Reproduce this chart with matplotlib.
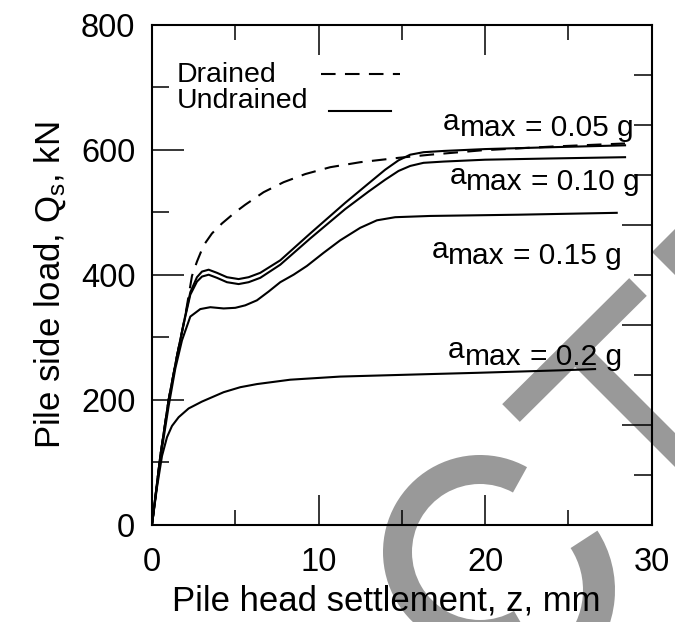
import numpy as np
import matplotlib
matplotlib.use('Agg')
import matplotlib.pyplot as plt
from matplotlib.patches import Wedge, Polygon
from matplotlib.transforms import IdentityTransform
from matplotlib.ticker import MultipleLocator, FixedLocator

plt.rcParams['font.family'] = ['Liberation Sans', 'DejaVu Sans']
plt.rcParams['mathtext.default'] = 'regular'

# pile head settlement z (mm) vs pile side load Qs (kN)
drained_z = [0, 0.5, 1.0, 1.5, 2.0, 2.4, 2.7, 3.1, 3.6, 4.2, 5.0, 5.6, 6.7, 7.9,
             9.2, 10.7, 12.5, 14.8, 16.7, 19.8, 24.0, 28.4]
drained_q = [0, 110, 200, 270, 335, 398, 421, 447, 466, 482, 500, 512, 532, 548,
             561, 572, 580, 587, 592, 599, 605, 610]

und_z = [0, 0.5, 1.0, 1.5, 2.0, 2.3, 2.7, 3.0, 3.4, 3.9, 4.5, 5.2, 5.8, 6.5, 7.7,
         9.5, 11.6, 13.0, 14.0, 14.8, 15.5, 16.3, 17.5, 20.0, 24.0, 28.4]
und005_q = [0, 110, 200, 270, 335, 372, 396, 405, 408, 403, 396, 393, 396, 403, 423,
            466, 515, 546, 568, 583, 592, 596, 598, 601, 604, 607]
und010_q = [0, 110, 200, 270, 333, 368, 389, 397, 400, 395, 388, 385, 388, 395, 416,
            458, 505, 533, 552, 566, 574, 579, 581, 584, 586, 588]

und015_z = [0, 0.5, 1.0, 1.4, 1.8, 2.3, 2.9, 3.5, 4.3, 5.0, 5.6, 6.3, 7.0, 7.7, 8.5,
            9.3, 10.3, 11.3, 12.5, 13.5, 14.6, 16.7, 22.0, 27.9]
und015_q = [0, 105, 190, 250, 295, 333, 345, 348, 346, 347, 351, 359, 373, 388, 400,
            414, 435, 455, 475, 487, 492, 494, 496, 499]

und020_z = [0, 0.3, 0.6, 0.9, 1.2, 1.6, 2.2, 3.0, 4.3, 5.3, 6.3, 8.3, 11.3, 14.0,
            16.7, 19.5, 22.0, 24.5, 26.6]
und020_q = [0, 60, 110, 140, 158, 172, 186, 197, 212, 220, 225, 232, 237, 239,
            241, 243, 245, 247, 249]

# a_max labels: (text after "a max", right edge z, baseline Qs)
amax_labels = ['0.05 g', '0.10 g', '0.15 g', '0.2 g']
amax_z = [28.9, 29.3, 28.2, 28.2]
amax_q = [622, 535, 417, 256]

W, H = 675, 622
fig = plt.figure(figsize=(W / 100, H / 100), dpi=100)
fig.patch.set_facecolor('white')

# grey logo behind the plot (pixel coords, y measured from the top)
grey = '#999999'
ident = IdentityTransform()

def bar(p0, p1, w):
    p0 = np.array([p0[0], H - p0[1]], float)
    p1 = np.array([p1[0], H - p1[1]], float)
    d = (p1 - p0) / np.hypot(*(p1 - p0))
    n = np.array([-d[1], d[0]]) * w / 2
    return Polygon([p0 + n, p1 + n, p1 - n, p0 - n], closed=True)

logo = [
    Wedge((480, H - 552), 97, 61, 300, width=29),
    Wedge((506, H - 590), 109, -120, 33, width=32),
    bar((511, 413), (638, 287), 25),
    bar((575, 350), (700, 475), 24),
    Polygon([(652, H - 252), (700, H - 204), (700, H - 300)], closed=True),
]
for p in logo:
    p.set_transform(ident)
    p.set_facecolor(grey)
    p.set_edgecolor('none')
    p.set_zorder(-1)
    fig.add_artist(p)

ax = fig.add_axes([152 / W, 1 - 524.7 / H, 499.7 / W, 500 / H])
ax.patch.set_visible(False)

lw = 1.5
ax.plot(drained_z, drained_q, color='k', lw=lw, ls=(0, (7, 4.5)))
ax.plot(und_z, und005_q, color='k', lw=lw)
ax.plot(und_z, und010_q, color='k', lw=lw)
ax.plot(und015_z, und015_q, color='k', lw=lw)
ax.plot(und020_z, und020_q, color='k', lw=lw)

ax.set_xlim(0, 30)
ax.set_ylim(0, 800)
ax.xaxis.set_major_locator(MultipleLocator(10))
ax.xaxis.set_minor_locator(MultipleLocator(5))
ax.yaxis.set_major_locator(MultipleLocator(200))
ax.yaxis.set_minor_locator(MultipleLocator(100))
for s in ax.spines.values():
    s.set_linewidth(1.5)
ax.tick_params(which='both', direction='in', top=True, right=False, width=1.1,
               labelsize=23.5)
ax.tick_params(axis='x', which='major', length=21.5, pad=16)
ax.tick_params(axis='x', which='minor', length=11)
ax.tick_params(axis='y', which='major', length=23, pad=12)
ax.tick_params(axis='y', which='minor', length=12)

# right side carries its own tick spacing
ax2 = ax.twinx()
ax2.set_ylim(0, 800)
for s in ax2.spines.values():
    s.set_visible(False)
ax2.yaxis.set_major_locator(FixedLocator([160, 320, 480]))
ax2.yaxis.set_minor_locator(FixedLocator([80, 240, 400, 560, 640, 720]))
ax2.tick_params(which='both', direction='in', width=1.1, labelright=False)
ax2.tick_params(which='major', length=21.5)
ax2.tick_params(which='minor', length=13)

ax.set_xlabel('Pile head settlement, z, mm', fontsize=25)
ax.xaxis.set_label_coords(0.469, -0.12)
ax.set_ylabel('Pile side load, Q$_s$, kN', fontsize=25)
ax.yaxis.set_label_coords(-0.168, 0.479)

# legend written by hand: label first, line sample after it
ax.text(0.0495, 0.886, 'Drained', transform=ax.transAxes, fontsize=20.5, va='baseline')
ax.text(0.0495, 0.834, 'Undrained', transform=ax.transAxes, fontsize=20.5, va='baseline')
ax.plot([0.339, 0.496], [0.901, 0.901], transform=ax.transAxes, color='k', lw=lw,
        ls=(0, (7, 4.5)), clip_on=False)
ax.plot([0.354, 0.479], [0.827, 0.827], transform=ax.transAxes, color='k', lw=lw,
        clip_on=False)

fs = 21.5
for lab, zr, qb in zip(amax_labels, amax_z, amax_q):
    tail = ax.text(zr, qb, '= ' + lab, fontsize=fs, ha='right', va='baseline')
    sub = ax.annotate('max', xy=(0, 0), xycoords=tail, xytext=(-6, 0),
                      textcoords='offset points', fontsize=fs, ha='right', va='bottom')
    ax.annotate('a', xy=(0, 0), xycoords=sub, xytext=(0, 4.5),
                textcoords='offset points', fontsize=fs, ha='right', va='bottom')

fig.savefig('out.png', dpi=100)
